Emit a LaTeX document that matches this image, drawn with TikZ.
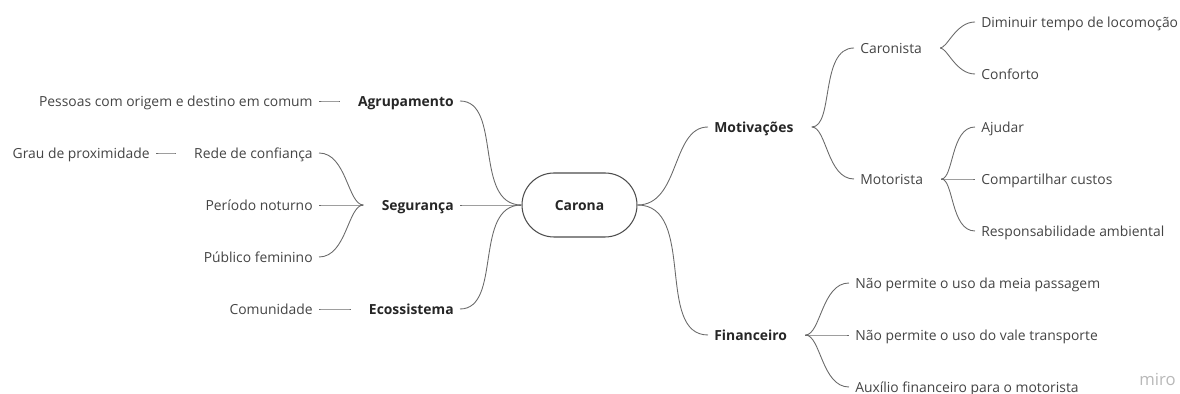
\documentclass[tikz,border=0pt]{standalone}
\usepackage{fontspec}
\setmainfont{Open Sans}
\usepackage{tikz}
\definecolor{leafgray}{HTML}{444444}
\definecolor{linegray}{HTML}{6A6A6A}
\definecolor{mirogray}{HTML}{B8B8B8}

\begin{document}
\begin{tikzpicture}[
    x=0.02cm,
    y=-0.02cm,
    every node/.style={font=\fontsize{7.9}{9}\selectfont, inner sep=0pt,
        text height=1.55ex, text depth=.45ex},
    leaf/.style={text=leafgray},
    topic/.style={font=\fontsize{7.9}{9}\selectfont\bfseries, text=black!85},
    hub/.style={draw=black!70, line width=0.6pt, rounded corners=0.64cm,
        minimum width=2.3cm, minimum height=1.28cm, text=black!85,
        font=\fontsize{7.9}{9}\selectfont\bfseries},
    branch/.style={draw=linegray, line width=0.5pt, shorten >=0.12cm},
    twig/.style={branch, shorten <=0.36cm}
]
    \useasboundingbox (0,0) rectangle (1180,394);

    \node[hub] (carona) at (579.5,205) {Carona};

    \node[topic, anchor=east] (agrup) at (454,101) {Agrupamento};
    \node[topic, anchor=east] (seguranca) at (454,205) {Segurança};
    \node[topic, anchor=east] (ecossist) at (454,309) {Ecossistema};
    \node[topic, anchor=west] (motiv) at (714,127) {Motivações};
    \node[topic, anchor=west] (financ) at (714,335) {Financeiro};

    \node[leaf, anchor=east] (pessoas) at (313,101) {Pessoas com origem e destino em comum};
    \node[leaf, anchor=east] (rede) at (313,153) {Rede de confiança};
    \node[leaf, anchor=east] (grau) at (150,153) {Grau de proximidade};
    \node[leaf, anchor=east] (noturno) at (313,205) {Período noturno};
    \node[leaf, anchor=east] (feminino) at (313,257) {Público feminino};
    \node[leaf, anchor=east] (comunidade) at (313,309) {Comunidade};

    \node[leaf, anchor=west] (caronista) at (860,48) {Caronista};
    \node[leaf, anchor=west] (motorista) at (860,179) {Motorista};
    \node[leaf, anchor=west] (diminuir) at (981,22) {Diminuir tempo de locomoção};
    \node[leaf, anchor=west] (conforto) at (981,74) {Conforto};
    \node[leaf, anchor=west] (ajudar) at (981,127) {Ajudar};
    \node[leaf, anchor=west] (custos) at (981,179) {Compartilhar custos};
    \node[leaf, anchor=west] (ambiental) at (981,231) {Responsabilidade ambiental};
    \node[leaf, anchor=west] (meia) at (855,283) {Não permite o uso da meia passagem};
    \node[leaf, anchor=west] (vale) at (855,335) {Não permite o uso do vale transporte};
    \node[leaf, anchor=west] (auxilio) at (855,387) {Auxílio financeiro para o motorista};

    \node[text=mirogray, anchor=east, font=\fontsize{9.5}{10}\selectfont] (miro) at (1176,380) {miro};

    \draw[branch] (carona.west) to[out=180, in=0] (agrup.east);
    \draw[branch] (carona.west) to[out=180, in=0] (seguranca.east);
    \draw[branch] (carona.west) to[out=180, in=0] (ecossist.east);
    \draw[branch] (carona.east) to[out=0, in=180] (motiv.west);
    \draw[branch] (carona.east) to[out=0, in=180] (financ.west);

    \draw[twig] (agrup.west) to[out=180, in=0] (pessoas.east);
    \draw[twig] (seguranca.west) to[out=180, in=0] (rede.east);
    \draw[twig] (seguranca.west) to[out=180, in=0] (noturno.east);
    \draw[twig] (seguranca.west) to[out=180, in=0] (feminino.east);
    \draw[twig] (rede.west) to[out=180, in=0] (grau.east);
    \draw[twig] (ecossist.west) to[out=180, in=0] (comunidade.east);

    \draw[twig] (motiv.east) to[out=0, in=180] (caronista.west);
    \draw[twig] (motiv.east) to[out=0, in=180] (motorista.west);
    \draw[twig] (caronista.east) to[out=0, in=180] (diminuir.west);
    \draw[twig] (caronista.east) to[out=0, in=180] (conforto.west);
    \draw[twig] (motorista.east) to[out=0, in=180] (ajudar.west);
    \draw[twig] (motorista.east) to[out=0, in=180] (custos.west);
    \draw[twig] (motorista.east) to[out=0, in=180] (ambiental.west);
    \draw[twig] (financ.east) to[out=0, in=180] (meia.west);
    \draw[twig] (financ.east) to[out=0, in=180] (vale.west);
    \draw[twig] (financ.east) to[out=0, in=180] (auxilio.west);
\end{tikzpicture}
\end{document}
